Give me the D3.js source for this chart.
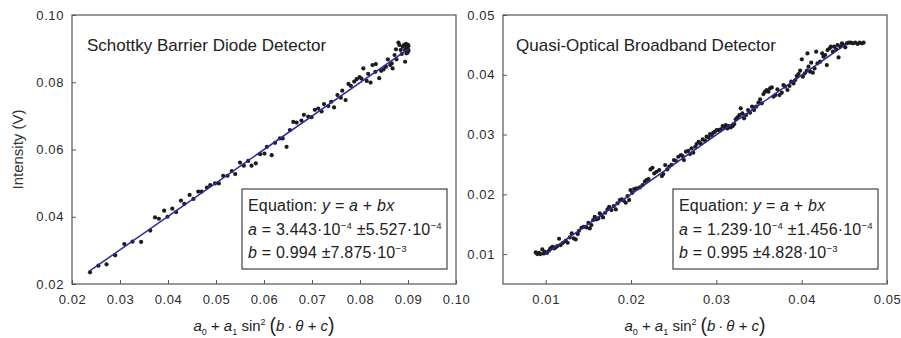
<!DOCTYPE html>
<html>
<head>
<meta charset="utf-8">
<script src="https://cdn.jsdelivr.net/npm/d3@7"></script>
<style>
  body { margin: 0; background: #fff; }
  svg { font-family: "Liberation Sans", Arial, sans-serif; }
</style>
</head>
<body>
<svg width="901" height="338"></svg>
<script>
// Schottky barrier diode detector (left panel)
const leftX = [0.02375,0.0255,0.0272,0.0290,0.0309,0.0326,0.0344,0.0363,0.0373,0.0381,
  0.0392,0.0399,0.0409,0.0417,0.0427,0.0434,0.0445,0.0453,0.0463,0.0470,
  0.0481,0.0488,0.0498,0.0506,0.0515,0.0524,0.0533,0.0540,0.0550,0.0558,
  0.0567,0.0574,0.0583,0.0592,0.0601,0.0606,0.0616,0.0623,0.0633,0.0639,
  0.0647,0.0654,0.0661,0.0668,0.0678,0.0683,0.0692,0.0699,0.0706,0.0713,
  0.0720,0.0725,0.0734,0.0740,0.0746,0.0753,0.0760,0.0763,0.0770,0.0776,
  0.0781,0.0788,0.0793,0.0799,0.0803,0.0807,0.0814,0.0817,0.0822,0.0826,
  0.0833,0.0832,0.0840,0.0844,0.0849,0.0854,0.0858,0.0863,0.0866,0.0868,
  0.0872,0.0875,0.0876,0.0880,0.0882,0.0885,0.0887,0.0889,0.0892,0.0894,
  0.0894,0.0896,0.0897,0.0899,0.0900,0.0900,0.0901,0.0901,0.0897];
const leftY = [0.02347,0.02545,0.02585,0.02853,0.0319,0.0326,0.0325,0.0359,0.0398,0.0394,
  0.0418,0.0400,0.0424,0.0414,0.0448,0.0438,0.0465,0.0453,0.0475,0.0475,
  0.0487,0.0494,0.0499,0.0499,0.0522,0.0522,0.0536,0.0527,0.0561,0.0552,
  0.0566,0.0552,0.0559,0.0586,0.0588,0.0608,0.0583,0.0620,0.0633,0.0633,
  0.0608,0.0658,0.0682,0.0680,0.0686,0.0703,0.0698,0.0696,0.0718,0.0722,
  0.0713,0.0735,0.0729,0.0742,0.0725,0.0762,0.0754,0.0775,0.0747,0.0795,
  0.0789,0.0802,0.0809,0.0815,0.0811,0.0841,0.0804,0.0825,0.0799,0.0851,
  0.0854,0.0831,0.0812,0.0834,0.0838,0.0846,0.0868,0.0851,0.0856,0.0841,
  0.0881,0.0898,0.0868,0.0918,0.0911,0.0896,0.0884,0.0906,0.0911,0.0861,
  0.0896,0.0914,0.0904,0.0888,0.0911,0.0898,0.0908,0.0894,0.0886];

// Quasi-optical broadband detector (right panel)
const rightX = [0.00883,0.00902,0.00922,0.00937,0.00961,0.00977,0.00992,0.01016,0.01039,0.01055,
  0.01078,0.01098,0.01117,0.01137,0.01157,0.01176,0.01204,0.01235,0.01258,0.01282,
  0.01305,0.01329,0.01352,0.01376,0.01391,0.01419,0.01446,0.01477,0.01501,0.01517,
  0.01536,0.01556,0.01575,0.01595,0.01618,0.01634,0.01654,0.01673,0.01697,0.01724,
  0.01744,0.01771,0.01798,0.01822,0.01841,0.01869,0.01892,0.01916,0.01939,0.01959,
  0.01978,0.01994,0.02014,0.02037,0.02065,0.02104,0.02135,0.02162,0.02182,0.02205,
  0.02229,0.02252,0.02272,0.02299,0.02331,0.02362,0.02378,0.02401,0.02425,0.02448,
  0.02476,0.02503,0.02526,0.02554,0.02585,0.02605,0.02620,0.02644,0.02671,0.02691,
  0.02710,0.02730,0.02753,0.02769,0.02793,0.02816,0.02840,0.02867,0.02886,0.02906,
  0.02926,0.02945,0.02965,0.02984,0.03004,0.03027,0.03051,0.03074,0.03094,0.03110,
  0.03129,0.03145,0.03168,0.03192,0.03211,0.03227,0.03247,0.03270,0.03286,0.03305,
  0.03325,0.03348,0.03372,0.03395,0.03419,0.03442,0.03466,0.03493,0.03513,0.03532,
  0.03552,0.03571,0.03591,0.03611,0.03630,0.03650,0.03669,0.03693,0.03716,0.03740,
  0.03767,0.03787,0.03806,0.03834,0.03857,0.03877,0.03904,0.03924,0.03943,0.03963,
  0.03982,0.04002,0.04014,0.04037,0.04061,0.04080,0.04068,0.04100,0.04112,0.04131,
  0.04151,0.04170,0.04186,0.04217,0.04241,0.04256,0.04276,0.04295,0.04303,0.04327,
  0.04342,0.04366,0.04381,0.04405,0.04421,0.04432,0.04452,0.04472,0.04491,0.04511,
  0.04530,0.04550,0.04577,0.04601,0.04628,0.04656,0.04679,0.04706,0.04726];
const rightY = [0.01028,0.01000,0.01022,0.01000,0.01078,0.01011,0.01039,0.01022,0.01056,0.01095,
  0.01123,0.01095,0.01112,0.01134,0.01257,0.01151,0.01190,0.01223,0.01190,0.01279,
  0.01346,0.01262,0.01245,0.01335,0.01391,0.01441,0.01457,0.01446,0.01524,0.01430,
  0.01485,0.01569,0.01625,0.01580,0.01597,0.01681,0.01653,0.01614,0.01692,0.01748,
  0.01792,0.01736,0.01803,0.01748,0.01848,0.01904,0.01915,0.01893,0.01859,0.01971,
  0.01904,0.02071,0.02026,0.02088,0.02099,0.02116,0.02155,0.02211,0.02238,0.02255,
  0.02417,0.02445,0.02350,0.02378,0.02406,0.02305,0.02339,0.02490,0.02417,0.02462,
  0.02495,0.02573,0.02562,0.02629,0.02657,0.02640,0.02573,0.02713,0.02729,0.02674,
  0.02768,0.02696,0.02796,0.02841,0.02880,0.02852,0.02919,0.02897,0.02964,0.02953,
  0.03008,0.02992,0.03031,0.03047,0.03075,0.03075,0.03086,0.03142,0.03120,0.03159,
  0.03103,0.03142,0.03120,0.03142,0.03176,0.03254,0.03287,0.03326,0.03438,0.03354,
  0.03271,0.03326,0.03410,0.03365,0.03466,0.03410,0.03466,0.03533,0.03589,0.03522,
  0.03678,0.03717,0.03745,0.03717,0.03773,0.03789,0.03633,0.03661,0.03756,0.03661,
  0.03700,0.03828,0.03801,0.03745,0.03812,0.03884,0.03856,0.03912,0.03979,0.04013,
  0.04068,0.04258,0.03968,0.04024,0.04068,0.04135,0.04358,0.04052,0.04202,0.04035,
  0.04107,0.04386,0.04191,0.04219,0.04358,0.04303,0.04331,0.04163,0.04414,0.04442,
  0.04470,0.04386,0.04470,0.04425,0.04498,0.04291,0.04470,0.04526,0.04498,0.04459,
  0.04526,0.04537,0.04537,0.04526,0.04537,0.04515,0.04537,0.04526,0.04537];

// fit parameters (y = a + b x) and x range of the fit line
const leftFit = { a: 3.443e-4, b: 0.994, from: 0.0237, to: 0.0901 };
const rightFit = { a: 1.239e-4, b: 0.995, from: 0.0099, to: 0.0453 };

// axes
const leftXTicks = [0.02, 0.03, 0.04, 0.05, 0.06, 0.07, 0.08, 0.09, 0.10];
const leftYTicks = [0.02, 0.04, 0.06, 0.08, 0.10];
const rightXTicks = [0.01, 0.02, 0.03, 0.04, 0.05];
const rightYTicks = [0.01, 0.02, 0.03, 0.04, 0.05];

const titles = ['Schottky Barrier Diode Detector', 'Quasi-Optical Broadband Detector'];

// equation box lines: [text, kind]
const leftEq = [
  [['Equation: ', 'n'], ['y', 'i'], [' = ', 'n'], ['a', 'i'], [' + ', 'n'], ['bx', 'i']],
  [['a', 'i'], [' = 3.443\u00B710', 'n'], ['\u22124', 'sup'], [' \u00B15.527\u00B710', 'n'], ['\u22124', 'sup']],
  [['b', 'i'], [' = 0.994 \u00B17.875\u00B710', 'n'], ['\u22123', 'sup']]
];
const rightEq = [
  [['Equation: ', 'n'], ['y', 'i'], [' = ', 'n'], ['a', 'i'], [' + ', 'n'], ['bx', 'i']],
  [['a', 'i'], [' = 1.239\u00B710', 'n'], ['\u22124', 'sup'], [' \u00B11.456\u00B710', 'n'], ['\u22124', 'sup']],
  [['b', 'i'], [' = 0.995 \u00B14.828\u00B710', 'n'], ['\u22123', 'sup']]
];
const xLabel = [['a', 'i'], ['0', 'sub'], [' + ', 'n'], ['a', 'i'], ['1', 'sub'], [' sin', 'n'], ['2', 'sup'],
  ['\u2009(', 'big'], ['b', 'i'], ['\u2009\u00B7\u2009', 'n'], ['\u03B8', 'i'], [' + ', 'n'], ['c', 'i'], [')', 'big']];

const svg = d3.select('svg');

// writes a line of math-like text made of tspans
function mathText(parent, parts) {
  const t = parent.append('text');
  let shift = 0;
  parts.forEach(([s, k]) => {
    const ts = t.append('tspan').text(s);
    let target = 0;
    if (k === 'i') ts.style('font-style', 'italic');
    if (k === 'sup') { ts.style('font-size', '0.6em'); target = -6; }
    if (k === 'sub') { ts.style('font-size', '0.6em'); target = 4; }
    if (k === 'big') { ts.style('font-size', '1.3em'); target = 1; }
    ts.attr('dy', target - shift);
    shift = target;
  });
  return t;
}

function drawPanel(p) {
  const w = p.width, h = p.height;
  const g = svg.append('g').attr('transform', `translate(${p.left},${p.top})`);

  const x = d3.scaleLinear().domain(p.xDomain).range([0, w]);
  const y = d3.scaleLinear().domain(p.yDomain).range([h, 0]);

  // bottom axis, ticks pointing inwards
  const gx = g.append('g')
    .attr('transform', `translate(0,${h})`)
    .call(d3.axisBottom(x).tickValues(p.xTicks).tickFormat(d3.format('.2f'))
      .tickSizeInner(-4).tickSizeOuter(0).tickPadding(11));

  const gy = g.append('g')
    .call(d3.axisLeft(y).tickValues(p.yTicks).tickFormat(d3.format('.2f'))
      .tickSizeInner(-4).tickSizeOuter(0).tickPadding(8));

  [gx, gy].forEach(a => {
    a.select('.domain').remove();
    a.selectAll('line').attr('stroke', '#555');
    a.selectAll('text')
      .attr('fill', '#2a2a2a')
      .style('font-size', '13px')
      .style('letter-spacing', '0.6px');
  });

  // frame
  g.append('rect')
    .attr('width', w).attr('height', h)
    .attr('fill', 'none').attr('stroke', '#555').attr('stroke-width', 1.2);

  // points
  g.append('g')
    .selectAll('circle')
    .data(d3.zip(p.xs, p.ys))
    .enter().append('circle')
    .attr('cx', d => x(d[0]))
    .attr('cy', d => y(d[1]))
    .attr('r', 2.1)
    .attr('fill', '#1c1c1c');

  // fitted line
  const fitPts = [p.fit.from, p.fit.to].map(v => [v, p.fit.a + p.fit.b * v]);
  g.append('path')
    .datum(fitPts)
    .attr('d', d3.line().x(d => x(d[0])).y(d => y(d[1])))
    .attr('fill', 'none')
    .attr('stroke', '#2a2a9e')
    .attr('stroke-width', 1.5);

  // panel title
  g.append('text')
    .attr('x', p.titleX).attr('y', 36)
    .attr('fill', '#222')
    .style('font-size', '17px')
    .text(p.title);

  // equation box
  const bw = 205, bh = 80;
  const bx = w - 9 - bw, by = h - 15 - bh;
  const box = g.append('g').attr('transform', `translate(${bx},${by})`);
  box.append('rect')
    .attr('width', bw).attr('height', bh)
    .attr('fill', '#fff').attr('stroke', '#444').attr('stroke-width', 1.2);
  p.eq.forEach((line, i) => {
    mathText(box, line)
      .attr('x', 6).attr('y', 22 + i * 23.5)
      .attr('fill', '#222')
      .style('font-size', '16px')
      .style('letter-spacing', '0.2px');
  });

  // x axis title
  mathText(g, xLabel)
    .attr('x', w / 2).attr('y', h + 47)
    .attr('text-anchor', 'middle')
    .attr('fill', '#222')
    .style('font-size', '15px');

  if (p.yLabel) {
    g.append('text')
      .attr('transform', `translate(-49,${h / 2}) rotate(-90)`)
      .attr('text-anchor', 'middle')
      .attr('fill', '#333')
      .style('font-size', '15px')
      .text(p.yLabel);
  }
}

drawPanel({
  left: 72, top: 15, width: 384, height: 269,
  xDomain: [0.02, 0.10], yDomain: [0.02, 0.10],
  xTicks: leftXTicks, yTicks: leftYTicks,
  xs: leftX, ys: leftY, fit: leftFit,
  title: titles[0], titleX: 15, eq: leftEq, yLabel: 'Intensity (V)'
});

drawPanel({
  left: 503, top: 15, width: 384, height: 269,
  xDomain: [0.005, 0.05], yDomain: [0.005, 0.05],
  xTicks: rightXTicks, yTicks: rightYTicks,
  xs: rightX, ys: rightY, fit: rightFit,
  title: titles[1], titleX: 13, eq: rightEq
});
</script>
</body>
</html>
